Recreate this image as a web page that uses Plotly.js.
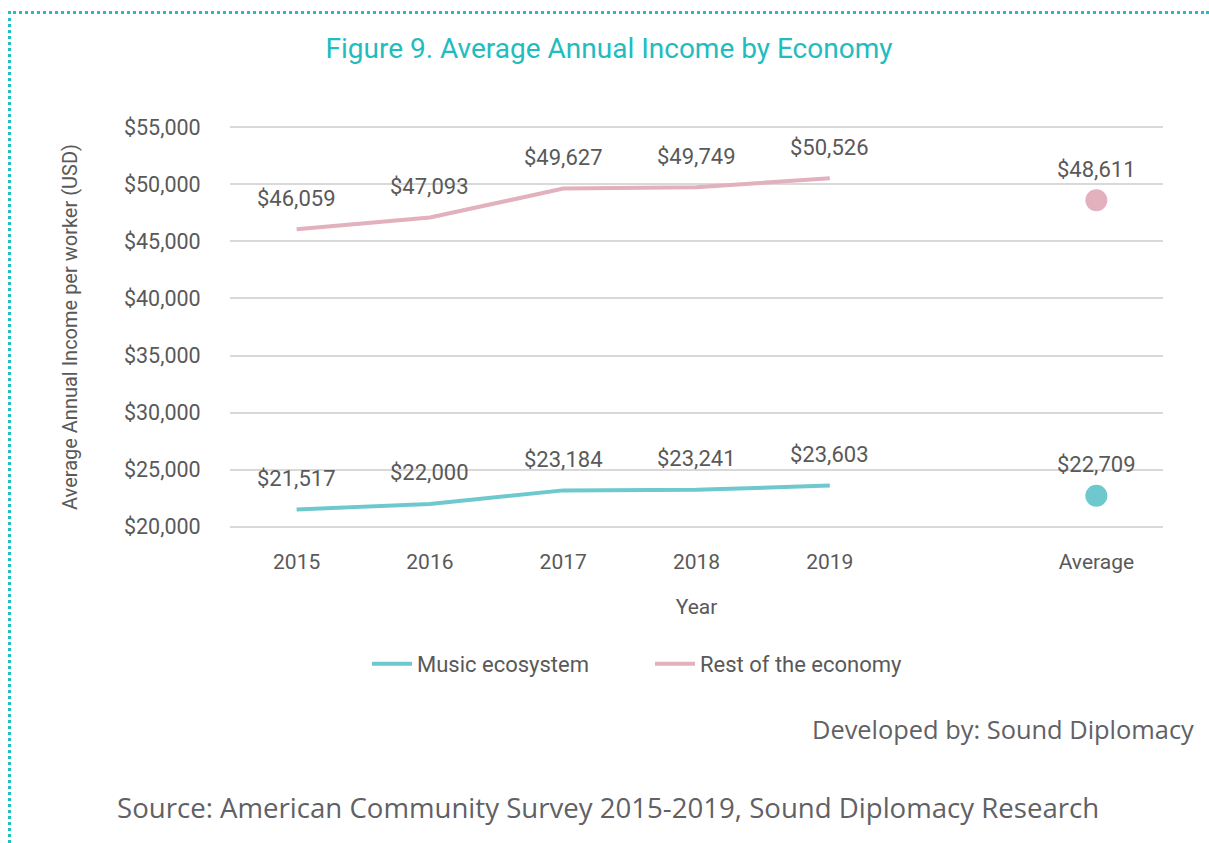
<!DOCTYPE html>
<html>
<head>
<meta charset="utf-8">
<script src="https://cdn.plot.ly/plotly-3.0.1.min.js"></script>
<style>
  html, body { margin: 0; padding: 0; background: #ffffff; }
  #frame { position: absolute; left: 8px; top: 11px; width: 1201px; height: 832px;
           border-left: 3px dotted #1fbfc4; border-top: 3px dotted #1fbfc4; box-sizing: border-box; }
  #chart { position: absolute; left: 0; top: 0; width: 1209px; height: 843px; }
</style>
</head>
<body>
<div id="frame"></div>
<div id="chart"></div>
<script>
const years = ["2015", "2016", "2017", "2018", "2019"];
const xLabels = ["2015", "2016", "2017", "2018", "2019", "", "Average"];
const musicValues = [21517, 22000, 23184, 23241, 23603];
const restValues = [46059, 47093, 49627, 49749, 50526];
const musicAverage = 22709;
const restAverage = 48611;
const yTicks = [20000, 25000, 30000, 35000, 40000, 45000, 50000, 55000];
const yTickText = ["$20,000", "$25,000", "$30,000", "$35,000", "$40,000", "$45,000", "$50,000", "$55,000"];

const tealColor = "#6dc9ce";
const pinkColor = "#e3b0bd";
const textColor = "#595959";
const fontFam = "Roboto, 'Open Sans', sans-serif";
const noteFam = "'Open Sans', Lato, sans-serif";

const xYears = years.map((y, i) => i);
const xAvg = xLabels.indexOf("Average");

function fmt(v) { return "$" + v.toLocaleString("en-US"); }
// plot area spans pixels 125..529 vertically, 230..1163 horizontally
function py(Y) { return (529 - Y) / 404; }
function px(X) { return (X - 230) / 933; }

const traces = [
  { x: xYears, y: musicValues, type: "scatter", mode: "lines", name: "Music ecosystem",
    line: { color: tealColor, width: 4 }, hoverinfo: "skip" },
  { x: xYears, y: restValues, type: "scatter", mode: "lines", name: "Rest of the economy",
    line: { color: pinkColor, width: 4 }, hoverinfo: "skip" },
  { x: [xAvg], y: [musicAverage], type: "scatter", mode: "markers", showlegend: false,
    marker: { color: tealColor, size: 22 }, hoverinfo: "skip" },
  { x: [xAvg], y: [restAverage], type: "scatter", mode: "markers", showlegend: false,
    marker: { color: pinkColor, size: 22 }, hoverinfo: "skip" }
];

const annotations = [];
function addLabels(xs, vals) {
  xs.forEach((x, i) => {
    annotations.push({ x: x, y: vals[i], xref: "x", yref: "y", text: fmt(vals[i]),
      showarrow: false, yshift: 31, font: { family: fontFam, size: 22, color: textColor } });
  });
}
addLabels(xYears, musicValues);
addLabels(xYears, restValues);
addLabels([xAvg], [musicAverage]);
addLabels([xAvg], [restAverage]);

annotations.push({ xref: "paper", yref: "paper", x: px(1196), y: py(729),
  xanchor: "right", yanchor: "middle", showarrow: false, text: "Developed by: Sound Diplomacy",
  font: { family: noteFam, size: 25.4, color: "#5f6166" } });
annotations.push({ xref: "paper", yref: "paper", x: px(115), y: py(807),
  xanchor: "left", yanchor: "middle", showarrow: false,
  text: "Source: American Community Survey 2015-2019, Sound Diplomacy Research",
  font: { family: noteFam, size: 27.6, color: "#5f6166" } });

const layout = {
  width: 1209, height: 843,
  paper_bgcolor: "rgba(0,0,0,0)", plot_bgcolor: "rgba(0,0,0,0)",
  margin: { l: 230, r: 46, t: 125, b: 314 },
  title: { text: "Figure 9. Average Annual Income by Economy", x: (609) / 1209, xanchor: "center",
    y: 1 - 48 / 843, yanchor: "middle", yref: "container",
    font: { family: fontFam, size: 28, color: "#22bcc0" } },
  xaxis: {
    range: [-0.5, 6.5], tickmode: "array", tickvals: xLabels.map((l, i) => i), ticktext: xLabels,
    showgrid: false, zeroline: false, showline: false,
    ticks: "outside", ticklen: 14, tickcolor: "rgba(0,0,0,0)",
    tickfont: { family: fontFam, size: 21, color: textColor },
    title: { text: "Year", standoff: 26, font: { family: fontFam, size: 21, color: textColor } }
  },
  yaxis: {
    range: [19800, 55200], tickmode: "array", tickvals: yTicks, ticktext: yTickText,
    showgrid: true, gridcolor: "#d9d9d9", gridwidth: 2, zeroline: false, showline: false,
    ticks: "outside", ticklen: 24, tickcolor: "rgba(0,0,0,0)",
    tickfont: { family: fontFam, size: 21.5, color: textColor },
    title: { text: "Average Annual Income per worker (USD)", standoff: 40,
      font: { family: fontFam, size: 20, color: textColor } }
  },
  legend: { orientation: "h", x: px(367), xanchor: "left", y: py(664), yanchor: "middle",
    font: { family: fontFam, size: 22, color: textColor }, tracegroupgap: 0,
    entrywidth: 228, itemwidth: 40 },
  showlegend: true,
  annotations: annotations
};

Plotly.newPlot("chart", traces, layout, { displayModeBar: false, staticPlot: true });
</script>
</body>
</html>
